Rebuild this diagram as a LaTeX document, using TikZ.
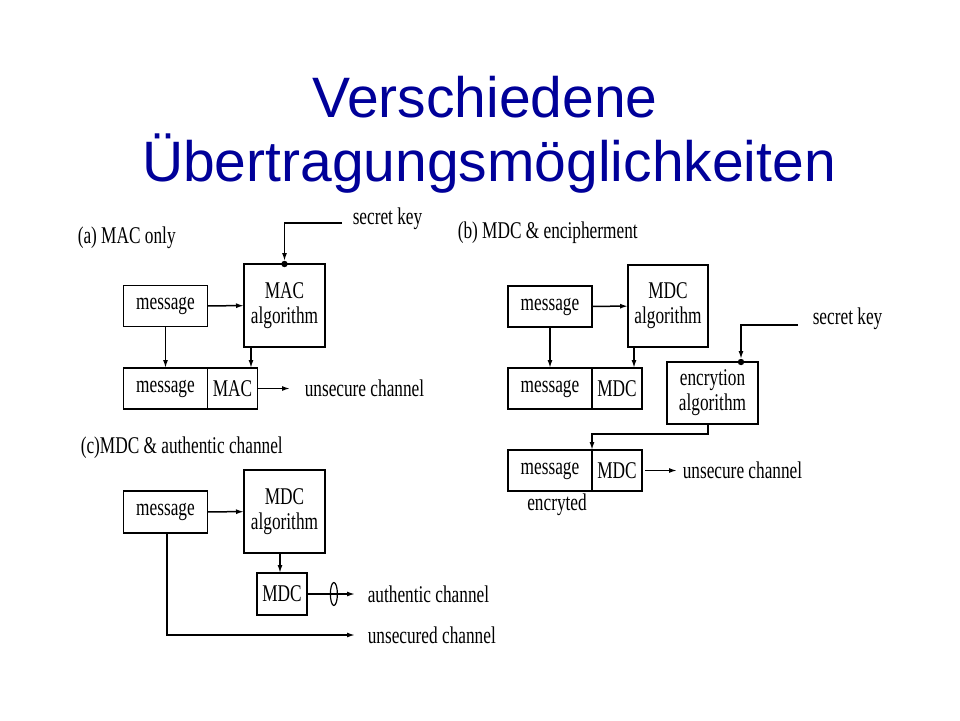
\documentclass[tikz,border=0pt]{standalone}
\usepackage{fontspec}
\setmainfont{Liberation Sans}
\newfontfamily\figfont{Liberation Serif}[FakeStretch=0.72]
\usetikzlibrary{arrows.meta,positioning,shapes.geometric}
\definecolor{titleblue}{RGB}{0,0,153}
\begin{document}
\begin{tikzpicture}[x=1pt,y=-1pt,line width=1.5pt,
    >={Latex[length=8pt,width=5pt]},
    every node/.style={font=\figfont\fontsize{24}{25}\selectfont},
    box/.style={draw,inner sep=0pt,outer sep=0pt,align=center},
    msgbox/.style={box,minimum width=84pt,minimum height=41pt},
    algbox/.style={box,minimum width=81pt,minimum height=83pt},
    tagbox/.style={box,minimum width=50pt,minimum height=41pt},
    lbl/.style={inner sep=0pt,anchor=west},
    title/.style={font=\normalfont\fontsize{57}{60}\selectfont,text=titleblue,anchor=base}]
    \useasboundingbox (0,0) rectangle (960,720);

    \node[title] (t1) at (485,117) {Verschiedene};
    \node[title] (t2) at (489,181) {Übertragungsmöglichkeiten};

    \node[lbl] (alab) at (77,238) {(a) MAC only};
    \node[msgbox] (amsg) at (165.5,306) {message};
    \node[algbox] (aalg) at (284.5,305.5) {MAC\\algorithm};
    \node[msgbox] (amsg2) at (165.5,388.5) {message};
    \node[tagbox,right=0pt of amsg2] (amac) {MAC};
    \coordinate (akey) at (342,223);
    \node[lbl] (akeyl) at (352,219) {secret key};
    \coordinate (achan) at (290,388.5);
    \node[lbl,right=14pt of achan] (achanl) {unsecure channel};
    \draw[->] (amsg) -- (aalg);
    \draw[->] (amsg.south) -- (amsg2.north);
    \draw[->] ([xshift=7pt]aalg.south west) -- ([xshift=7pt]aalg.south west |- amac.north);
    \draw[->] (akey) -| ([yshift=3pt]aalg.north);
    \fill (aalg.north) circle (3.2pt);
    \draw[->] (amac) -- (achan);

    \node[lbl] (blab) at (457,233) {(b) MDC \& encipherment};
    \node[msgbox] (bmsg) at (550,306.5) {message};
    \node[algbox,minimum width=80pt,minimum height=82pt] (balg) at (668,306) {MDC\\algorithm};
    \node[msgbox] (bmsg2) at (550,388.5) {message};
    \node[tagbox,right=0pt of bmsg2] (bmdc) {MDC};
    \node[box,minimum width=91pt,minimum height=62pt] (benc) at (712.5,393) {encrytion\\algorithm};
    \coordinate (bkey) at (798,325);
    \node[lbl] (bkeyl) at (812,319) {secret key};
    \node[msgbox] (bmsg3) at (550,470.5) {message};
    \node[tagbox,right=0pt of bmsg3] (bmdc3) {MDC};
    \node[below=2pt of bmsg3,xshift=7pt,inner sep=0pt] (bcap) {encryted};
    \coordinate (bchan) at (677,470.5);
    \node[lbl,right=5pt of bchan] (bchanl) {unsecure channel};
    \draw[->] (bmsg) -- (balg);
    \draw[->] (bmsg.south) -- (bmsg2.north);
    \draw[->] ([xshift=6pt]balg.south west) -- ([xshift=6pt]balg.south west |- bmdc.north);
    \draw[->] (bkey) -| ([xshift=28.5pt,yshift=3pt]benc.north);
    \fill ([xshift=28.5pt]benc.north) circle (3.2pt);
    \draw[->] ([xshift=-4.5pt]benc.south) -- ++(0,10) -| (bmsg3.north east);
    \draw[->] ([xshift=3pt]bmdc3.east) -- (bchan);

    \node[lbl] (clab) at (80,448) {(c)MDC \& authentic channel};
    \node[msgbox,minimum height=42pt] (cmsg) at (165.5,512) {message};
    \node[algbox] (calg) at (284.5,511.5) {MDC\\algorithm};
    \node[tagbox,minimum height=42pt] (cmdc) at (282,594) {MDC};
    \coordinate (cauth) at (355,594);
    \coordinate (cuns) at (355,635);
    \node[lbl,right=12pt of cauth] (cauthl) {authentic channel};
    \node[lbl,right=12pt of cuns] (cunsl) {unsecured channel};
    \draw[->] (cmsg) -- (calg);
    \draw[->] ([xshift=-2pt]cmdc.north |- calg.south) -- ([xshift=-2pt]cmdc.north);
    \draw[->] (cmdc) -- (cauth)
      node[pos=0.56,draw,ellipse,inner sep=0pt,minimum width=7pt,minimum height=23pt,line width=1.2pt] {};
    \draw[->] ([xshift=1.5pt]cmsg.south) |- (cuns);
  \end{tikzpicture}
\end{document}
